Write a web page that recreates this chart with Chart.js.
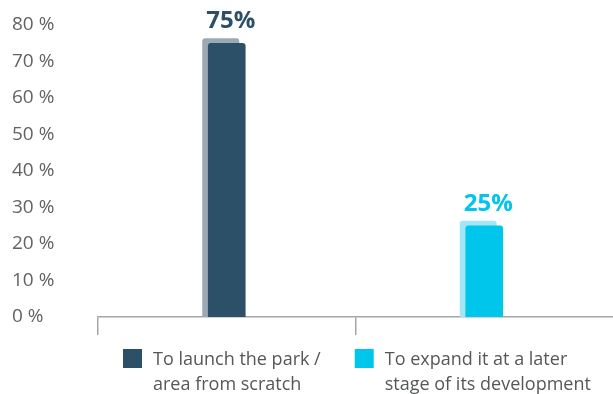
<!DOCTYPE html>
<html>
<head>
<meta charset="utf-8">
<script src="https://cdn.jsdelivr.net/npm/chart.js@4"></script>
<style>
  html, body { margin: 0; padding: 0; background: #fff; }
  #wrap { width: 613px; height: 394px; position: relative; }
</style>
</head>
<body>
<div id="wrap"><canvas id="chart"></canvas></div>
<script>
// categories (legend text split over two lines) and their shares
const categories = [
  ["To launch the park /", "area from scratch"],
  ["To expand it at a later", "stage of its development"]
];
const shares = [75, 25];
const barColors = ["#2c5067", "#00c6ec"];
const shadowColors = ["#9aa9b3", "#a3e6f8"];
const yTicks = [0, 10, 20, 30, 40, 50, 60, 70, 80];

const FONT = "'Open Sans', sans-serif";

// light copy of each bar, nudged up and to the left, drawn behind it
const barShadow = {
  id: "barShadow",
  beforeDatasetsDraw(chart) {
    const ctx = chart.ctx;
    chart.getDatasetMeta(0).data.forEach((bar, i) => {
      const w = bar.width;
      const left = bar.x - w / 2 - 6;
      const top = bar.y - 5;
      const bottom = bar.base;
      ctx.save();
      ctx.fillStyle = shadowColors[i];
      ctx.beginPath();
      ctx.roundRect(left, top, w, bottom - top, [3, 3, 0, 0]);
      ctx.fill();
      ctx.restore();
    });
  }
};

// value above each bar
const valueLabels = {
  id: "valueLabels",
  afterDatasetsDraw(chart) {
    const ctx = chart.ctx;
    const data = chart.data.datasets[0].data;
    chart.getDatasetMeta(0).data.forEach((bar, i) => {
      ctx.save();
      ctx.fillStyle = barColors[i];
      ctx.font = "bold 24px " + FONT;
      ctx.textAlign = "center";
      ctx.textBaseline = "alphabetic";
      ctx.fillText(data[i] + "%", bar.x + 4, bar.y - 15);
      ctx.restore();
    });
  }
};

// two-line legend under the axis
const bottomLegend = {
  id: "bottomLegend",
  afterDraw(chart) {
    const ctx = chart.ctx;
    ctx.save();
    ctx.font = "18px " + FONT;
    ctx.textBaseline = "alphabetic";
    ctx.textAlign = "left";
    let x = 123;
    const y = 349;
    categories.forEach((lines, i) => {
      ctx.fillStyle = barColors[i];
      ctx.fillRect(x, y, 19, 19);
      ctx.fillStyle = "#555759";
      let maxW = 0;
      lines.forEach((line, j) => {
        ctx.fillText(line, x + 30, 365 + j * 25);
        maxW = Math.max(maxW, ctx.measureText(line).width);
      });
      x += 30 + maxW + 34;
    });
    ctx.restore();
  }
};

new Chart(document.getElementById("chart"), {
  type: "bar",
  data: {
    labels: categories,
    datasets: [{
      data: shares,
      backgroundColor: barColors,
      borderRadius: { topLeft: 3, topRight: 3 },
      borderSkipped: "bottom",
      barThickness: 37
    }]
  },
  options: {
    responsive: true,
    maintainAspectRatio: false,
    animation: false,
    layout: { padding: { left: 12, top: 25, right: 0, bottom: 59 } },
    plugins: {
      legend: { display: false },
      tooltip: { enabled: false }
    },
    scales: {
      x: {
        grid: {
          offset: true,
          drawOnChartArea: false,
          drawTicks: true,
          tickLength: 18,
          // the closing line past the last category gets the scale context (no tick): hide it
          color: c => (c.tick === undefined ? "rgba(0,0,0,0)" : "#a6a6a6"),
          lineWidth: 1.5
        },
        border: { color: "#a6a6a6", width: 1.5 },
        ticks: { display: false },
        afterFit(scale) { scale.height = 18; }
      },
      y: {
        min: 0,
        max: 80,
        afterBuildTicks(scale) { scale.ticks = yTicks.map(v => ({ value: v })); },
        grid: { display: false },
        border: { display: false },
        ticks: {
          crossAlign: "far",
          padding: 0,
          color: "#626365",
          font: { family: FONT, size: 19 },
          callback: v => v + " %"
        },
        afterFit(scale) { scale.width = 86; }
      }
    }
  },
  plugins: [barShadow, valueLabels, bottomLegend]
});
</script>
</body>
</html>
